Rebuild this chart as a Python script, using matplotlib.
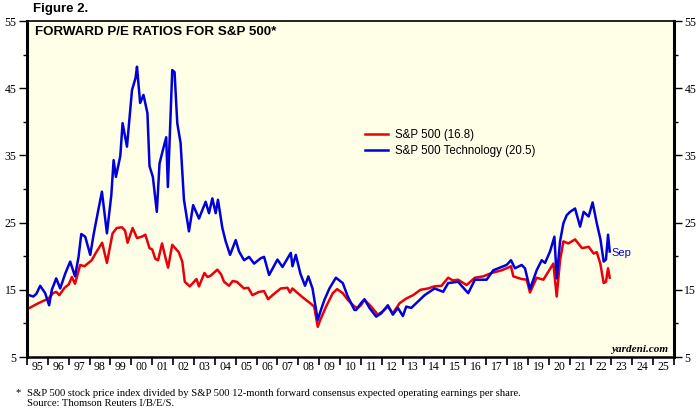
import matplotlib
matplotlib.use('Agg')
import matplotlib.pyplot as plt
from matplotlib.ticker import MultipleLocator, FixedLocator, NullFormatter

# S&P 500 forward P/E (fecha decimal, valor)
sp_fecha = [1995.0, 1995.54, 1996.03, 1996.25, 1996.4, 1996.55, 1996.8, 1997.0, 1997.15, 1997.3,
            1997.55, 1997.75, 1998.1, 1998.3, 1998.6, 1998.83, 1999.1, 1999.3, 1999.55, 1999.7,
            1999.82, 2000.06, 2000.27, 2000.5, 2000.67, 2000.87, 2001.0, 2001.15, 2001.28, 2001.47,
            2001.65, 2001.76, 2001.96, 2002.1, 2002.27, 2002.44, 2002.56, 2002.8, 2003.12, 2003.24,
            2003.5, 2003.65, 2003.8, 2004.12, 2004.3, 2004.44, 2004.68, 2004.85, 2005.05, 2005.4,
            2005.6, 2005.8, 2006.12, 2006.36, 2006.55, 2006.8, 2007.16, 2007.48, 2007.6, 2007.72,
            2007.97, 2008.2, 2008.32, 2008.57, 2008.76, 2008.93, 2009.05, 2009.33, 2009.65, 2009.86,
            2010.13, 2010.37, 2010.53, 2010.69, 2010.85, 2011.0, 2011.17, 2011.49, 2011.81, 2012.05,
            2012.29, 2012.53, 2012.85, 2013.17, 2013.5, 2013.85, 2014.22, 2014.5, 2014.86, 2015.18,
            2015.4, 2015.66, 2016.06, 2016.46, 2016.86, 2017.26, 2017.74, 2018.05, 2018.19, 2018.3,
            2018.7, 2018.94, 2019.1, 2019.42, 2019.74, 2020.0, 2020.22, 2020.38, 2020.54, 2020.7,
            2020.94, 2021.26, 2021.59, 2021.91, 2022.15, 2022.3, 2022.47, 2022.63, 2022.74, 2022.84,
            2022.92]
sp_pe = [12.1, 13.0, 13.7, 14.5, 14.7, 14.2, 15.3, 15.8, 16.9, 15.9,
         18.7, 18.5, 19.4, 20.5, 22.0, 19.0, 23.4, 24.2, 24.3, 23.8,
         22.0, 24.2, 22.7, 22.9, 23.2, 21.2, 21.0, 19.6, 19.4, 21.9,
         19.6, 18.3, 21.7, 21.2, 20.6, 19.2, 16.2, 15.5, 16.6, 15.5,
         17.5, 16.9, 17.1, 18.0, 17.3, 16.2, 15.6, 16.3, 16.2, 15.2,
         15.3, 14.2, 14.7, 14.8, 13.6, 14.3, 15.2, 15.3, 14.6, 15.2,
         14.5, 13.9, 13.6, 13.0, 12.5, 9.5, 10.5, 12.5, 14.5, 15.1,
         14.5, 13.5, 13.0, 12.5, 12.3, 12.7, 13.5, 12.5, 11.3, 11.8,
         12.5, 11.5, 13.0, 13.7, 14.2, 15.0, 15.2, 15.5, 15.6, 16.8,
         16.4, 16.5, 15.7, 16.8, 17.0, 17.5, 17.9, 18.3, 18.5, 17.0,
         16.6, 16.5, 14.6, 16.8, 16.5, 17.8, 18.9, 14.0, 19.4, 22.2,
         21.9, 22.5, 21.2, 21.4, 20.4, 20.6, 18.9, 16.0, 16.2, 18.2,
         16.8]

# S&P 500 Technology forward P/E
tec_fecha = [1995.0, 1995.3, 1995.45, 1995.63, 1995.87, 1996.06, 1996.19, 1996.4, 1996.59, 1996.83,
             1997.07, 1997.3, 1997.47, 1997.6, 1997.79, 1998.03, 1998.19, 1998.43, 1998.59, 1998.83,
             1999.04, 1999.15, 1999.26, 1999.47, 1999.58, 1999.79, 2000.03, 2000.2, 2000.27, 2000.42,
             2000.58, 2000.77, 2000.87, 2001.03, 2001.22, 2001.35, 2001.47, 2001.67, 2001.75, 2001.96,
             2002.07, 2002.2, 2002.36, 2002.52, 2002.76, 2002.96, 2003.24, 2003.56, 2003.72, 2003.88,
             2004.04, 2004.15, 2004.36, 2004.52, 2004.73, 2005.0, 2005.16, 2005.4, 2005.64, 2005.88,
             2006.2, 2006.36, 2006.6, 2007.0, 2007.24, 2007.64, 2007.72, 2007.88, 2008.1, 2008.32,
             2008.48, 2008.68, 2008.93, 2009.05, 2009.25, 2009.49, 2009.8, 2010.13, 2010.37, 2010.69,
             2010.77, 2011.0, 2011.17, 2011.41, 2011.73, 2011.97, 2012.29, 2012.53, 2012.77, 2013.01,
             2013.17, 2013.41, 2014.05, 2014.53, 2014.94, 2015.18, 2015.66, 2015.82, 2016.14, 2016.46,
             2016.78, 2017.02, 2017.34, 2017.66, 2017.98, 2018.19, 2018.38, 2018.7, 2018.86, 2019.1,
             2019.42, 2019.66, 2019.82, 2020.06, 2020.27, 2020.38, 2020.54, 2020.7, 2020.86, 2021.02,
             2021.26, 2021.5, 2021.67, 2021.91, 2022.1, 2022.3, 2022.47, 2022.63, 2022.74, 2022.84,
             2022.92]
tec_pe = [14.3, 14.0, 14.4, 15.6, 14.5, 12.7, 15.0, 16.7, 15.2, 17.4,
          19.2, 17.0, 19.9, 23.3, 22.9, 20.2, 23.2, 27.1, 29.6, 23.4,
          29.1, 34.3, 31.8, 34.9, 39.8, 36.3, 44.7, 46.5, 48.2, 42.8,
          44.0, 41.3, 33.4, 31.8, 26.6, 33.8, 35.3, 37.7, 30.3, 47.7,
          47.4, 39.8, 36.8, 28.4, 23.7, 27.6, 25.6, 28.1, 26.4, 28.6,
          26.4, 28.4, 24.2, 22.2, 20.2, 22.4, 20.7, 19.4, 19.9, 18.9,
          19.7, 19.9, 17.2, 19.5, 18.4, 20.5, 18.5, 20.2, 17.4, 15.6,
          17.0, 15.2, 10.5, 11.7, 13.5, 15.2, 16.8, 16.0, 14.0, 12.0,
          12.0, 13.0, 13.6, 12.3, 11.0, 11.5, 12.7, 11.3, 12.3, 11.1,
          12.5, 12.3, 14.2, 15.2, 14.7, 16.0, 16.2, 15.6, 14.5, 16.5,
          16.5, 16.5, 17.9, 18.3, 18.7, 19.4, 18.2, 18.7, 18.2, 15.1,
          17.9, 19.4, 19.0, 20.7, 22.9, 16.7, 22.2, 24.9, 26.1, 26.6,
          27.1, 24.4, 26.6, 25.9, 28.0, 24.9, 22.6, 19.2, 19.5, 23.2,
          20.7]

anios = list(range(1995, 2026))
etiquetas = ['%02d' % (a % 100) for a in anios]
y_mayores = [5, 15, 25, 35, 45, 55]
y_menores = [10, 20, 30, 40, 50]

rojo = '#E8000B'
azul = '#0000DD'
serif = ['Liberation Serif', 'DejaVu Serif']
sans = ['Liberation Sans', 'DejaVu Sans']

# las etiquetas de los ejes van en letra con serifa
plt.rcParams['font.family'] = serif

fig = plt.figure(figsize=(6.96, 4.2), dpi=100)
ax = fig.add_axes([27/696, 63/420, 647/696, 336/420])
ax.set_facecolor('#FFFFE8')

ax.plot(sp_fecha, sp_pe, color=rojo, lw=1.8, label='S&P 500 (16.8)')
ax.plot(tec_fecha, tec_pe, color=azul, lw=1.8, label='S&P 500 Technology (20.5)')

ax.set_xlim(1995, 2026)
ax.set_ylim(5, 55)

# eje x: marcas en los limites de cada anio, etiquetas al centro
ax.xaxis.set_major_locator(MultipleLocator(1))
ax.xaxis.set_major_formatter(NullFormatter())
ax.xaxis.set_minor_locator(FixedLocator([a + 0.5 for a in anios]))
ax.set_xticklabels(etiquetas, minor=True)
ax.tick_params(axis='x', which='major', direction='out', length=6, width=1.2)
ax.tick_params(axis='x', which='minor', length=0, pad=3, labelsize=8.5)

# eje y: etiquetas en ambos lados
ax.yaxis.set_major_locator(FixedLocator(y_mayores))
ax.yaxis.set_minor_locator(FixedLocator(y_menores))
ax.set_yticklabels([str(v) for v in y_mayores])
ax.tick_params(axis='y', which='both', left=True, right=True, labelleft=True, labelright=True,
               direction='out', pad=1.5, labelsize=8.5)
ax.tick_params(axis='y', which='major', length=6, width=1)
ax.tick_params(axis='y', which='minor', length=3, width=1)

ax.spines['left'].set_linewidth(2.2)
ax.spines['right'].set_linewidth(2.2)
ax.spines['bottom'].set_linewidth(1.8)
ax.spines['top'].set_linewidth(1.2)

leg = ax.legend(loc='upper left', bbox_to_anchor=(365/696, 1 - 129/420),
                bbox_transform=fig.transFigure, frameon=False, borderpad=0,
                borderaxespad=0, handlelength=2.0, handletextpad=0.6,
                labelspacing=0.35, prop={'family': sans, 'size': 8.3})
for linea in leg.get_lines():
    linea.set_linewidth(1.8)

fig.text(33/696, 1 - 9/420, 'Figure 2.', fontfamily=sans, fontweight='bold',
         fontsize=9.5, va='center', ha='left')
fig.text(35/696, 1 - 32/420, 'FORWARD P/E RATIOS FOR S&P 500*', fontfamily=sans,
         fontweight='bold', fontsize=9.6, va='center', ha='left')
fig.text(611/696, 1 - 253/420, 'Sep', color=azul, fontfamily=sans, fontsize=8,
         va='center', ha='left')
fig.text(668/696, 1 - 350/420, 'yardeni.com', fontweight='bold',
         fontstyle='italic', fontsize=8, va='center', ha='right')

fig.text(15/696, 1 - 393/420, '*', fontsize=7.7, va='center', ha='left')
fig.text(27/696, 1 - 393/420,
         'S&P 500 stock price index divided by S&P 500 12-month forward consensus expected operating earnings per share.',
         fontsize=7.7, va='center', ha='left')
fig.text(27/696, 1 - 404/420, 'Source: Thomson Reuters I/B/E/S.', fontsize=7.7,
         va='center', ha='left')

fig.savefig('out.png', dpi=100)
